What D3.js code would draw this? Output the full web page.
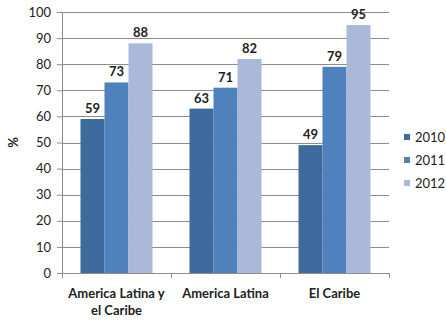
<!DOCTYPE html>
<html>
<head>
<meta charset="utf-8">
<script src="https://cdn.jsdelivr.net/npm/d3@7"></script>
<style>
  body { margin: 0; background: #fff; }
  text { font-family: Lato, "Open Sans", sans-serif; fill: #222; }
</style>
</head>
<body>
<div id="chart"></div>
<script>
// Values
const categories = [["America Latina y", "el Caribe"], ["America Latina"], ["El Caribe"]];
const years = ["2010", "2011", "2012"];
const values2010 = [59, 63, 49];
const values2011 = [73, 71, 79];
const values2012 = [88, 82, 95];
const yTicks = [0, 10, 20, 30, 40, 50, 60, 70, 80, 90, 100];
const colors = ["#3e6a9e", "#4f81bd", "#aab9d9"];

const W = 446, H = 322;
const margin = { top: 12, right: 57, bottom: 49, left: 62 };
const width = W - margin.left - margin.right;
const height = H - margin.top - margin.bottom;

const svg = d3.select("#chart").append("svg")
    .attr("width", W).attr("height", H);
const g = svg.append("g").attr("transform", `translate(${margin.left},${margin.top})`);

const catKeys = categories.map(c => c.join(" "));
const x0 = d3.scaleBand().domain(catKeys).range([0, width]).paddingInner(0).paddingOuter(0);
const x1 = d3.scaleBand().domain(years).range([0, x0.bandwidth()]).paddingInner(0).paddingOuter(0.77);
const y = d3.scaleLinear().domain([0, 100]).range([height, 0]);

// gridlines
g.append("g").selectAll("line").data(yTicks.filter(d => d > 0)).enter().append("line")
    .attr("x1", 0).attr("x2", width)
    .attr("y1", d => Math.round(y(d)) + 0.5).attr("y2", d => Math.round(y(d)) + 0.5)
    .attr("stroke", "#8c8c8c").attr("stroke-width", 1);

// bars
const series = [values2010, values2011, values2012];
const rows = [];
catKeys.forEach((c, i) => years.forEach((yr, j) => rows.push({ cat: c, year: yr, v: series[j][i], j })));

g.append("g").selectAll("rect").data(rows).enter().append("rect")
    .attr("x", d => x0(d.cat) + x1(d.year))
    .attr("y", d => y(d.v))
    .attr("width", x1.bandwidth())
    .attr("height", d => height - y(d.v))
    .attr("fill", d => colors[d.j]);

// data labels
g.append("g").selectAll("text").data(rows).enter().append("text")
    .attr("x", d => x0(d.cat) + x1(d.year) + x1.bandwidth() / 2)
    .attr("y", d => y(d.v) - 6)
    .attr("text-anchor", "middle")
    .style("font-size", "13px").style("font-weight", "bold")
    .text(d => d.v);

// y axis
const yAxis = g.append("g")
    .call(d3.axisLeft(y).tickValues(yTicks).tickSize(5).tickPadding(6));
yAxis.selectAll("text").style("font-size", "13px").attr("fill", "#222");
yAxis.selectAll("line,path").attr("stroke", "#8c8c8c");
yAxis.select(".domain").attr("d", `M-5,0.5H0.5V${height}`).attr("stroke", "#8c8c8c");

// x axis
const xAxis = g.append("g").attr("transform", `translate(0,${height})`);
xAxis.append("line").attr("x1", 0).attr("x2", width).attr("y1", 0.5).attr("y2", 0.5)
    .attr("stroke", "#8c8c8c");
xAxis.selectAll(".tk").data([0, ...catKeys.map(c => x0(c) + x0.bandwidth())]).enter().append("line")
    .attr("x1", d => Math.round(d) + 0.5).attr("x2", d => Math.round(d) + 0.5)
    .attr("y1", 0).attr("y2", 5).attr("stroke", "#8c8c8c");

const labels = xAxis.selectAll(".lbl").data(categories).enter().append("text")
    .attr("text-anchor", "middle")
    .attr("x", (d, i) => x0(catKeys[i]) + x0.bandwidth() / 2)
    .attr("y", 25)
    .style("font-size", "13px").style("font-weight", "bold");
labels.selectAll("tspan").data(d => d).enter().append("tspan")
    .attr("x", function () { return d3.select(this.parentNode).attr("x"); })
    .attr("dy", (d, i) => i === 0 ? 0 : 17)
    .text(d => d);

// y title
svg.append("text")
    .attr("transform", `translate(18,${margin.top + height / 2}) rotate(-90)`)
    .attr("text-anchor", "middle")
    .style("font-size", "13px").style("font-weight", "bold")
    .text("%");

// legend
const legend = svg.append("g").attr("transform", "translate(404,137)");
years.forEach((yr, i) => {
  const row = legend.append("g").attr("transform", `translate(0,${i * 23})`);
  row.append("rect").attr("x", 0).attr("y", -3).attr("width", 6).attr("height", 6).attr("fill", colors[i]);
  row.append("text").attr("x", 11).attr("y", 0).attr("dy", "0.35em")
      .style("font-size", "13px").text(yr);
});
</script>
</body>
</html>
